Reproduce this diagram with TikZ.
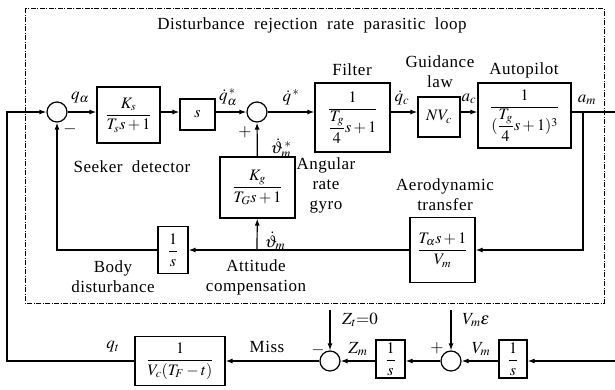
\documentclass[tikz,border=0pt]{standalone}
\usepackage{amsmath,amssymb}
\usepackage{mathptmx}
\usepackage{fontspec}
\setmainfont[LetterSpace=3]{Liberation Serif}
\usetikzlibrary{arrows.meta}

\begin{document}
\begin{tikzpicture}[x=1pt, y=-1pt,
	every node/.style={font=\fontsize{17}{20}\selectfont},
	blk/.style={draw, line width=1.2pt, inner sep=1pt, font=\fontsize{16}{18}\selectfont},
	sumc/.style={draw, circle, line width=1.2pt, minimum size=20pt, inner sep=0pt},
	wire/.style={line width=1.2pt},
	sig/.style={line width=1.2pt, -{Latex[length=7pt,width=5pt]}},
	lbl/.style={align=center, inner sep=1pt},
	sym/.style={inner sep=0pt, font=\fontsize{17}{18}\selectfont}]
	\useasboundingbox (0,0) rectangle (615,389);
	\draw[line width=0.8pt, dash pattern=on 5pt off 1.5pt on 1pt off 1.5pt] (25,8) rectangle (604,303);
	\node[lbl] (title) at (312,25) {Disturbance\ \ rejection\ \ rate\ \ parasitic\ \ loop};

	\node[sumc] (S1) at (57,112) {};
	\node[blk, minimum width=63, minimum height=56] (Ks) at (128.5,115) {$\dfrac{K_s}{T_s s+1}$};
	\node[blk, minimum width=35, minimum height=31] (D) at (197.5,114.5) {$s$};
	\node[sumc] (S2) at (257,112) {};
	\node[blk, minimum width=75, minimum height=69] (F) at (352.5,117.5) {$\dfrac{1}{\dfrac{T_g}{4}s+1}$};
	\node[blk, minimum width=42, minimum height=40] (NV) at (439,117) {$NV_c$};
	\node[blk, minimum width=93, minimum height=65] (AP) at (524.5,115.5) {$\dfrac{1}{(\dfrac{T_g}{4}s+1)^3}$};
	\node[blk, minimum width=65, minimum height=65] (Aero) at (442.5,250) {$\dfrac{T_\alpha s+1}{V_m}$};
	\node[blk, minimum width=75, minimum height=61] (Kg) at (257.5,187.5) {$\dfrac{K_g}{T_G s+1}$};
	\node[blk, minimum width=30, minimum height=47] (Body) at (173,250) {$\dfrac{1}{s}$};

	\node[blk, minimum width=90, minimum height=49] (Bot) at (180,361) {$\dfrac{1}{V_c(T_F-t)}$};
	\node[sumc] (S3) at (330,361) {};
	\node[blk, minimum width=29, minimum height=38] (I1) at (390.5,359) {$\dfrac{1}{s}$};
	\node[sumc] (S4) at (451,361) {};
	\node[blk, minimum width=28, minimum height=38] (I2) at (513,359) {$\dfrac{1}{s}$};

	\coordinate (inL) at (7,112);
	\coordinate (br) at (583,112);
	\coordinate (out) at (615,112);
	\coordinate (gb) at (257,250);
	\coordinate (inR) at (615,361);
	\coordinate (zt) at (330,310);
	\coordinate (vme) at (451,310);

	\draw[sig] (S1) -- (S1 -| Ks.west);
	\draw[sig] (Ks.east |- S1) -- (D.west |- S1);
	\draw[sig] (D.east |- S1) -- (S2);
	\draw[sig] (S2) -- (S2 -| F.west);
	\draw[sig] (F.east |- S1) -- (NV.west |- S1);
	\draw[sig] (NV.east |- S1) -- (AP.west |- S1);
	\draw[wire] (AP.east |- S1) -- (out);
	\draw[sig] (br) |- (Aero);
	\draw[sig] (Aero) -- (Body);
	\draw[sig] (gb) -- (Kg);
	\draw[sig] (Kg) -- (S2);
	\draw[sig] (Body) -| (S1);
	\draw[sig] (Bot.west) -| (inL) -- (S1);
	\draw[sig] (inR) -- (inR -| I2.east);
	\draw[sig] (I2.west |- S4) -- (S4);
	\draw[sig] (S4) -- (S4 -| I1.east);
	\draw[sig] (I1.west |- S3) -- (S3);
	\draw[sig] (S3) -- (Bot);
	\draw[sig] (zt) -- (S3);
	\draw[sig] (vme) -- (S4);

	\node[sym] (qa) at (80,98) {$q_\alpha$};
	\node[sym] (qad) at (228,97) {$\dot q_\alpha^{\,*}$};
	\node[sym] (qd) at (291,97) {$\dot q^{\,*}$};
	\node[sym] (m1) at (70,129) {$-$};
	\node[sym] (p1) at (245,132) {$+$};
	\node[lbl] (tF) at (352,70) {Filter};
	\node[lbl] (tG) at (440,72) {Guidance\\law};
	\node[lbl] (tA) at (524,70) {Autopilot};
	\node[sym] (qc) at (402,98) {$\dot q_c$};
	\node[sym] (ac) at (469,99) {$a_c$};
	\node[sym] (am) at (587,100) {$a_m$};
	\node[lbl] (tS) at (132,167) {Seeker\ \ detector};
	\node[sym] (th1) at (281,148) {$\dot\vartheta_m^{\,*}$};
	\node[lbl] (tR) at (326,185) {Angular\\rate\\gyro};
	\node[lbl] (tT) at (445,195) {Aerodynamic\\transfer};
	\node[sym] (th2) at (275,241) {$\dot\vartheta_m$};
	\node[lbl] (tB) at (113,277) {Body\\disturbance};
	\node[lbl] (tC) at (256,277) {Attitude\\compensation};
	\node[sym] (qt) at (113,347) {$q_t$};
	\node[lbl] (tM) at (267,347) {Miss};
	\node[sym] (m3) at (318,350) {$-$};
	\node[sym] (zl) at (360,320) {$Z_t{=}0$};
	\node[sym] (zm) at (358,349) {$Z_m$};
	\node[sym] (p4) at (437,348) {$+$};
	\node[sym] (ve) at (476,320) {$V_m\varepsilon$};
	\node[sym] (vm) at (481,349) {$V_m$};
\end{tikzpicture}
\end{document}
